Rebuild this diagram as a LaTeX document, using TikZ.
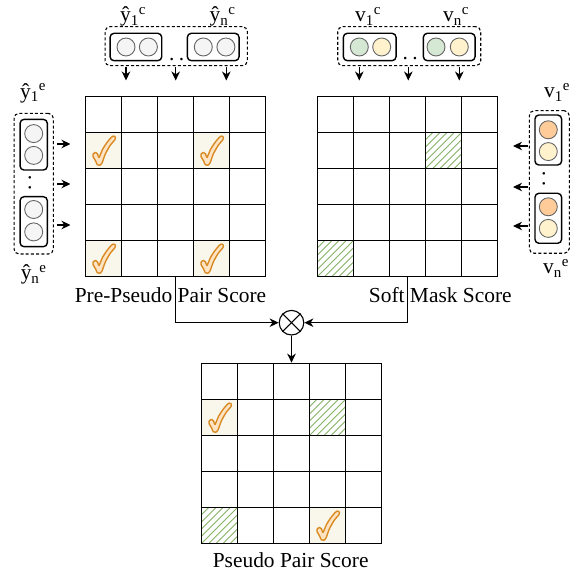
\documentclass[tikz,border=0pt]{standalone}
\usepackage{fontspec}
\setmainfont{Liberation Serif}
\usetikzlibrary{arrows.meta}
\definecolor{cgrayf}{HTML}{F5F5F5}
\definecolor{cgrayd}{HTML}{666666}
\definecolor{cgreen}{HTML}{D5E8D4}
\definecolor{cyel}{HTML}{FFF2CC}
\definecolor{corange}{HTML}{FFCC99}
\definecolor{cellbg}{HTML}{F9F6EC}
\definecolor{chkfill}{HTML}{FFE4C4}
\definecolor{chkdraw}{HTML}{D98A22}
\definecolor{hatchc}{HTML}{82B366}
\newcommand\cs{36}
\newcommand\gridlines[2]{%
  \foreach \k in {1,...,4}{%
    \draw[gridline] ({#1+\k*\cs},#2) -- ++(0,180);
    \draw[gridline] (#1,{#2+\k*\cs}) -- ++(180,0);}}
\newcommand\chkcell[4]{%
  \begin{scope}[shift={({#1+#3*\cs},{#2+#4*\cs})}]
    \fill[cellbg] (0,0) rectangle (\cs,\cs);
    \filldraw[fill=chkfill,draw=chkdraw,line width=1.4pt,line join=round]
      plot[smooth cycle,tension=0.4] coordinates {(13.5,25) (17,17) (21.5,10) (25.5,5.2) (27.5,3.6) (29.4,4) (30,5.6) (29.3,7.3) (24.6,13) (19.8,21.5) (16.6,30.3) (14.2,32.8) (11.8,32.2) (10,28.2) (7.6,24.2) (7.8,21.2) (10,19.9) (12,21.4)};
  \end{scope}}
\newcommand\hatchcell[4]{%
  \begin{scope}[shift={({#1+#3*\cs},{#2+#4*\cs})}]
    \clip (0,0) rectangle (\cs,\cs);
    \foreach \k in {-5,...,5}{\draw[hatchc,line width=0.9pt] ({\k*7.2},\cs) -- ++(\cs,-\cs);}
  \end{scope}}
\begin{document}
\begin{tikzpicture}[x=1pt,y=-1pt,
  lbl/.style={font=\fontsize{21.4}{24}\selectfont, inner sep=0pt, anchor=base},
  dots/.style={font=\fontsize{21.4}{24}\selectfont, inner sep=0pt},
  gridline/.style={line width=1.6pt, draw=black},
  gridbox/.style={draw, line width=1.6pt, minimum width=180pt, minimum height=180pt, inner sep=0pt},
  dashbox/.style={draw, dash pattern=on 3pt off 2.2pt, rounded corners=5pt, line width=1.1pt, inner sep=0pt},
  inbox/.style={draw, rounded corners=4pt, line width=1.4pt, inner sep=0pt},
  ball/.style={circle, draw=cgrayd, line width=0.9pt, minimum size=18pt, inner sep=0pt},
  gball/.style={ball, fill=cgrayf},
  grball/.style={ball, fill=cgreen},
  yball/.style={ball, fill=cyel},
  oball/.style={ball, fill=corange},
  sarr/.style={-{Stealth[length=9pt,width=8.5pt,inset=2.8pt]}, line width=1.2pt},
]
\useasboundingbox (0,0) rectangle (579,577);

% ---------- grids ----------
\chkcell{85.5}{96.5}{0}{1}
\chkcell{85.5}{96.5}{3}{1}
\chkcell{85.5}{96.5}{0}{4}
\chkcell{85.5}{96.5}{3}{4}
\gridlines{85.5}{96.5}
\node[gridbox] (gL) at (175.5,186.5) {};

\hatchcell{317.5}{96.5}{3}{1}
\hatchcell{317.5}{96.5}{0}{4}
\gridlines{317.5}{96.5}
\node[gridbox] (gR) at (407.5,186.5) {};

\chkcell{201.5}{363.5}{0}{1}
\hatchcell{201.5}{363.5}{3}{1}
\hatchcell{201.5}{363.5}{0}{4}
\chkcell{201.5}{363.5}{3}{4}
\gridlines{201.5}{363.5}
\node[gridbox] (gB) at (291.5,453.5) {};

% ---------- labels ----------
\node[lbl] (lbL) at (170.5,302.5) {Pre-Pseudo Pair Score};
\node[lbl] (lbR) at (440.3,302.5) {Soft Mask Score};
\node[lbl] (lbB) at (290.7,567) {Pseudo Pair Score};

% ---------- multiplication ----------
\node[circle, draw, line width=1.1pt, minimum size=24.6pt, inner sep=0pt] (mul) at (291.5,322.7) {};
\draw[line width=1.1pt] (mul.45) -- (mul.225) (mul.135) -- (mul.315);
\draw[sarr] (gL.south) |- (mul.west);
\draw[sarr] (gR.south) |- (mul.east);
\draw[sarr] (mul.south) -- (gB.north);

% ---------- top-left group ----------
\node[dashbox, minimum width=142.3pt, minimum height=39pt] (tlg) at (176.2,46.2) {};
\node[inbox, minimum width=51.7pt, minimum height=27.4pt] (tlb1) at (135.9,47) {};
\node[gball] (tlc1) at (126,47) {};
\node[gball] (tlc2) at (148.4,47) {};
\node[inbox, minimum width=51.7pt, minimum height=27.4pt] (tlb2) at (213.2,47) {};
\node[gball] (tlc3) at (203.3,47) {};
\node[gball] (tlc4) at (225.9,47) {};
\node[dots] (tld) at (176.7,59.2) {.\hspace{4.6pt}.};
\node[lbl] (tll1) at (133,22) {ŷ\textsubscript{1}\textsuperscript{c}};
\node[lbl] (tll2) at (222.5,22) {ŷ\textsubscript{n}\textsuperscript{c}};
\coordinate (ta1) at (126,80.5);
\coordinate (ta2) at (175.7,80.5);
\coordinate (ta3) at (226.3,80.5);
\foreach \t in {ta1,ta2,ta3}{\draw[sarr, shorten <=1pt] (\t |- tlg.south) -- (\t);}

% ---------- top-right group ----------
\node[dashbox, minimum width=143pt, minimum height=39pt] (trg) at (409.2,46.2) {};
\node[inbox, minimum width=52.7pt, minimum height=27.4pt] (trb1) at (369.7,47) {};
\node[grball] (trc1) at (359.3,47) {};
\node[yball] (trc2) at (381.7,47) {};
\node[inbox, minimum width=51.7pt, minimum height=27.4pt] (trb2) at (449.2,47) {};
\node[grball] (trc3) at (436,47) {};
\node[yball] (trc4) at (459.3,47) {};
\node[dots] (trd) at (410.2,58.5) {.\hspace{4.6pt}.};
\node[lbl] (trl1) at (368,22) {v\textsubscript{1}\textsuperscript{c}};
\node[lbl] (trl2) at (456,22) {v\textsubscript{n}\textsuperscript{c}};
\coordinate (tb1) at (359.3,80.5);
\coordinate (tb2) at (408.3,80.5);
\coordinate (tb3) at (459.3,80.5);
\foreach \t in {tb1,tb2,tb3}{\draw[sarr, shorten <=1pt] (\t |- trg.south) -- (\t);}

% ---------- left group ----------
\node[dashbox, minimum width=39.3pt, minimum height=140.7pt] (lg) at (33.7,183.7) {};
\node[inbox, minimum width=27.3pt, minimum height=50.7pt] (lb1) at (33.7,144.7) {};
\node[gball] (lc1) at (33.7,133.6) {};
\node[gball] (lc2) at (33.7,155.4) {};
\node[inbox, minimum width=27.3pt, minimum height=50pt] (lb2) at (33.7,221.7) {};
\node[gball] (lc3) at (33.7,209.5) {};
\node[gball] (lc4) at (33.7,231.9) {};
\node[dots, rotate=90] (ld) at (30,183) {.\hspace{4.6pt}.};
\node[lbl] (ll1) at (33,98.5) {ŷ\textsubscript{1}\textsuperscript{e}};
\node[lbl] (ll2) at (33.7,280) {ŷ\textsubscript{n}\textsuperscript{e}};
\coordinate (la1) at (70.5,144);
\coordinate (la2) at (70.5,184);
\coordinate (la3) at (70.5,225);
\foreach \t in {la1,la2,la3}{\draw[sarr, shorten <=3pt] (lg.east |- \t) -- (\t);}

% ---------- right group ----------
\node[dashbox, minimum width=40pt, minimum height=142.6pt] (rg) at (549.3,182) {};
\node[inbox, minimum width=26.7pt, minimum height=50pt] (rb1) at (548.3,140) {};
\node[oball] (rc1) at (548.3,129.8) {};
\node[yball] (rc2) at (548.3,151.6) {};
\node[inbox, minimum width=26.7pt, minimum height=50pt] (rb2) at (548.3,218.3) {};
\node[oball] (rc3) at (548.3,206.8) {};
\node[yball] (rc4) at (548.3,228.4) {};
\node[dots, rotate=90] (rd) at (544,179) {.\hspace{4.6pt}.};
\node[lbl] (rl1) at (557,98) {v\textsubscript{1}\textsuperscript{e}};
\node[lbl] (rl2) at (556,274) {v\textsubscript{n}\textsuperscript{e}};
\coordinate (ra1) at (513,146);
\coordinate (ra2) at (513,187);
\coordinate (ra3) at (513,226);
\foreach \t in {ra1,ra2,ra3}{\draw[sarr, shorten <=1pt] (rg.west |- \t) -- (\t);}
\end{tikzpicture}
\end{document}
